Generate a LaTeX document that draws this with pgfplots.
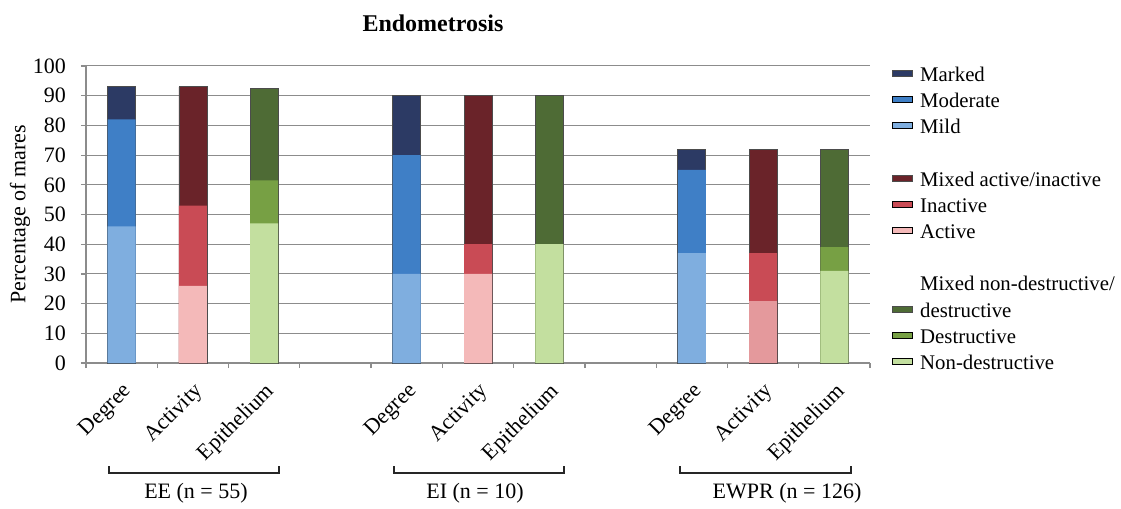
\documentclass[border=0pt]{standalone}
\usepackage{pgfplots}
\pgfplotsset{compat=1.18}
\usepackage{fontspec}
\setmainfont{Liberation Serif}

\definecolor{marked}{RGB}{44,58,100}
\definecolor{moderate}{RGB}{63,127,198}
\definecolor{mild}{RGB}{127,174,223}
\definecolor{mixact}{RGB}{106,35,41}
\definecolor{inactive}{RGB}{201,75,85}
\definecolor{active}{RGB}{244,185,185}
\definecolor{activeb}{RGB}{228,153,156}
\definecolor{mixnd}{RGB}{78,107,53}
\definecolor{destr}{RGB}{119,160,68}
\definecolor{nondestr}{RGB}{195,223,159}
\definecolor{gridgray}{RGB}{140,140,140}

\begin{document}
\begin{tikzpicture}[font=\fontsize{11}{13}\selectfont]
\begin{axis}[
  name=ax,
  scale only axis,
  width=392pt, height=148.5pt,
  ybar,
  every axis plot post/.append style={bar shift=0pt, bar width=14pt},
  legend image code/.code={\draw[#1] (0pt,-0.3pt) rectangle (10pt,2.6pt);},
  xmin=-0.5, xmax=10.5,
  ymin=0, ymax=100,
  ytick={0,10,...,100},
  xtick={-0.5,0.5,...,10.5},
  xticklabels={},
  extra x ticks={0,1,2,4,5,6,8,9,10},
  extra x tick labels={Degree,Activity,Epithelium,Degree,Activity,Epithelium,Degree,Activity,Epithelium},
  extra x tick style={major tick length=0pt, grid=none,
    tick label style={xshift=0pt, yshift=-9pt, rotate=45, anchor=north east, inner sep=0pt}},
  axis x line*=bottom, axis y line*=left,
  axis line style={-, gridgray, line width=0.6pt},
  tick style={gridgray, line width=0.6pt},
  tick align=outside,
  major tick length=2.5pt,
  ymajorgrids,
  grid style={gridgray, line width=0.5pt},
  /pgf/number format/assume math mode=true,
  yticklabel style={xshift=-4pt},
  ylabel={Percentage of mares},
  ylabel style={at={(rel axis cs:0,0.5)}, yshift=33pt, anchor=center},
  clip=false,
  legend style={at={(1,1)}, anchor=north west, xshift=11pt, yshift=2pt,
    draw=none, fill=none, inner sep=0pt, column sep=2pt,
    legend cell align=left, row sep=0pt,
    font=\fontsize{10.4}{12.5}\selectfont,
    nodes={inner sep=1.5pt, text height=7.9pt, text depth=2.2pt}},
]
% cumulative tops of each segment, tallest drawn first
\addplot[fill=marked, draw=black!70, line width=0.4pt] coordinates {(0,93) (4,90) (8,72)};
\addlegendentry{Marked}
\addplot[fill=moderate, draw=none] coordinates {(0,82) (4,70) (8,65)};
\addlegendentry{Moderate}
\addplot[fill=mild, draw=none] coordinates {(0,46) (4,30) (8,37)};
\addlegendentry{Mild}
\addlegendimage{empty legend}
\addlegendentry{}

\addplot[fill=mixact, draw=black!70, line width=0.4pt] coordinates {(1,93) (5,90) (9,72)};
\addlegendentry{Mixed active/inactive}
\addplot[fill=inactive, draw=none] coordinates {(1,53) (5,40) (9,37)};
\addlegendentry{Inactive}
\addplot[fill=active, draw=none] coordinates {(1,26) (5,30)};
\addlegendentry{Active}
\addplot[fill=activeb, draw=none, forget plot] coordinates {(9,21)};
\addlegendimage{empty legend}
\addlegendentry{}
\addlegendimage{empty legend}
\addlegendentry{Mixed non-destructive/}

\addplot[fill=mixnd, draw=black!70, line width=0.4pt] coordinates {(2,92.5) (6,90) (10,72)};
\addlegendentry{destructive}
\addplot[fill=destr, draw=none] coordinates {(2,61.5) (6,40) (10,39)};
\addlegendentry{Destructive}
\addplot[fill=nondestr, draw=none] coordinates {(2,47) (6,40) (10,31)};
\addlegendentry{Non-destructive}

\node[font=\fontsize{12}{14}\selectfont\bfseries] at ([yshift=21.5pt]rel axis cs:0.4426,1) {Endometrosis};

\draw[line width=0.8pt, black!85] ([yshift=-51.5pt]axis cs:-0.177,0) -- ([yshift=-55pt]axis cs:-0.177,0) -- ([yshift=-55pt]axis cs:2.208,0) -- ([yshift=-51.5pt]axis cs:2.208,0);
\draw[line width=0.8pt, black!85] ([yshift=-51.5pt]axis cs:3.82,0) -- ([yshift=-55pt]axis cs:3.82,0) -- ([yshift=-55pt]axis cs:6.207,0) -- ([yshift=-51.5pt]axis cs:6.207,0);
\draw[line width=0.8pt, black!85] ([yshift=-51.5pt]axis cs:7.834,0) -- ([yshift=-55pt]axis cs:7.834,0) -- ([yshift=-55pt]axis cs:10.23,0) -- ([yshift=-51.5pt]axis cs:10.23,0);
\node at ([yshift=-65pt]axis cs:1.043,0) {EE (n = 55)};
\node at ([yshift=-65pt]axis cs:4.958,0) {EI (n = 10)};
\node at ([yshift=-65pt]axis cs:9.336,0) {EWPR (n = 126)};
\end{axis}
\pgfresetboundingbox
\path[use as bounding box] ([shift={(-43pt,-73pt)}]ax.south west) rectangle ([shift={(125.5pt,33pt)}]ax.north east);
\end{tikzpicture}
\end{document}
